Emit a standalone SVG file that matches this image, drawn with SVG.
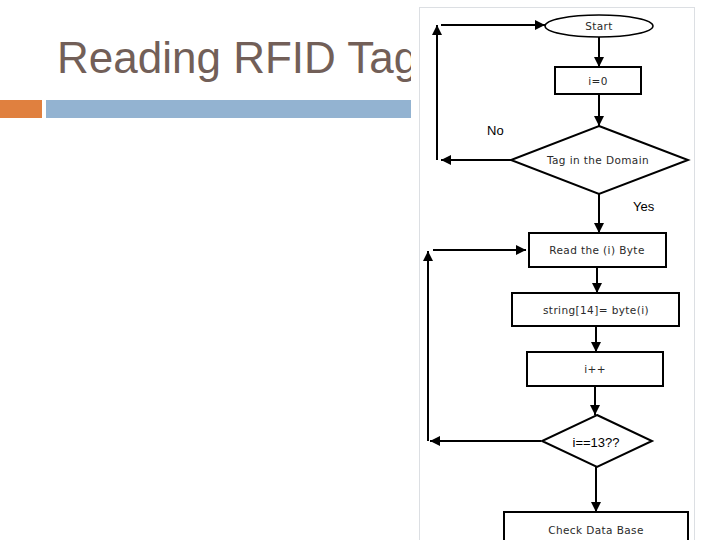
<svg xmlns="http://www.w3.org/2000/svg" width="720" height="540" viewBox="0 0 720 540">
<defs>
<marker id="ah" viewBox="0 0 10 10" refX="10" refY="5" markerWidth="10" markerHeight="10" markerUnits="userSpaceOnUse" orient="auto">
<path d="M0,0 L10,5 L0,10 z" fill="#000"/>
</marker>
<style>
.title{font-family:"Liberation Sans",Arial,sans-serif;font-size:44px;fill:#725f58}
.box{fill:#fff;stroke:#000;stroke-width:2}
.lbl{font-family:"DejaVu Sans",Verdana,sans-serif;font-size:10.5px;fill:#2a2a2a;text-anchor:middle;letter-spacing:0.4px}
.yn{font-family:"Liberation Sans",Arial,sans-serif;font-size:13px;fill:#000}
.con{fill:none;stroke:#000;stroke-width:2}
</style>
</defs>
<rect width="720" height="540" fill="#fff"/>
<text class="title" x="57" y="73">Reading RFID Tags</text>
<rect x="0" y="100" width="42" height="18" fill="#e0803f"/>
<rect x="46" y="100" width="368" height="18" fill="#93b3d1"/>
<rect x="411" y="0" width="290" height="540" fill="#fff"/>
<rect x="419.5" y="7.5" width="275" height="540" fill="#fff" stroke="#dcdfe3" stroke-width="1"/>

<g id="connectors">
<line class="con" x1="599" y1="37" x2="599" y2="67" marker-end="url(#ah)"/>
<line class="con" x1="599" y1="94" x2="599" y2="126" marker-end="url(#ah)"/>
<line class="con" x1="511" y1="160" x2="441" y2="160" marker-end="url(#ah)"/>
<line class="con" x1="437" y1="160" x2="437" y2="25" marker-end="url(#ah)"/>
<line class="con" x1="441" y1="25" x2="545" y2="25" marker-end="url(#ah)"/>
<line class="con" x1="599" y1="194" x2="599" y2="233" marker-end="url(#ah)"/>
<line class="con" x1="597" y1="267" x2="597" y2="293" marker-end="url(#ah)"/>
<line class="con" x1="596" y1="326" x2="596" y2="352" marker-end="url(#ah)"/>
<line class="con" x1="595" y1="386" x2="595" y2="415" marker-end="url(#ah)"/>
<line class="con" x1="541" y1="441" x2="430" y2="441" marker-end="url(#ah)"/>
<line class="con" x1="428" y1="441" x2="428" y2="251" marker-end="url(#ah)"/>
<line class="con" x1="433" y1="250" x2="526" y2="250" marker-end="url(#ah)"/>
<line class="con" x1="596" y1="467" x2="596" y2="512" marker-end="url(#ah)"/>
<text class="yn" x="487" y="135">No</text>
<text class="yn" x="633" y="211">Yes</text>
</g>

<g id="start">
<ellipse cx="599" cy="26" rx="54" ry="11" fill="#fff" stroke="#000" stroke-width="1.5"/>
<text class="lbl" x="599" y="30">Start</text>
</g>
<g id="init">
<rect class="box" x="555" y="67" width="86" height="27"/>
<text class="lbl" x="598" y="84.5">i=0</text>
</g>
<g id="tag-domain">
<polygon class="box" points="599,126 688,160 599,194 511,160"/>
<text class="lbl" x="598" y="164">Tag in the Domain</text>
</g>
<g id="read-byte">
<rect class="box" x="529" y="233" width="137" height="34"/>
<text class="lbl" x="597" y="254">Read the (i) Byte</text>
</g>
<g id="string-assign">
<rect class="box" x="512" y="293" width="167" height="33"/>
<text class="lbl" x="596" y="313.5">string[14]= byte(i)</text>
</g>
<g id="increment">
<rect class="box" x="527" y="352" width="136" height="34"/>
<text class="lbl" x="595" y="372.5">i++</text>
</g>
<g id="check-13">
<polygon class="box" points="597,415 652,441 597,467 542,441"/>
<text x="596" y="447" font-family="'Liberation Sans',Arial,sans-serif" font-size="13" fill="#000" text-anchor="middle">i==13??</text>
</g>
<g id="check-db">
<rect class="box" x="504" y="512" width="184" height="40"/>
<text class="lbl" x="596" y="534">Check Data Base</text>
</g>
</svg>
